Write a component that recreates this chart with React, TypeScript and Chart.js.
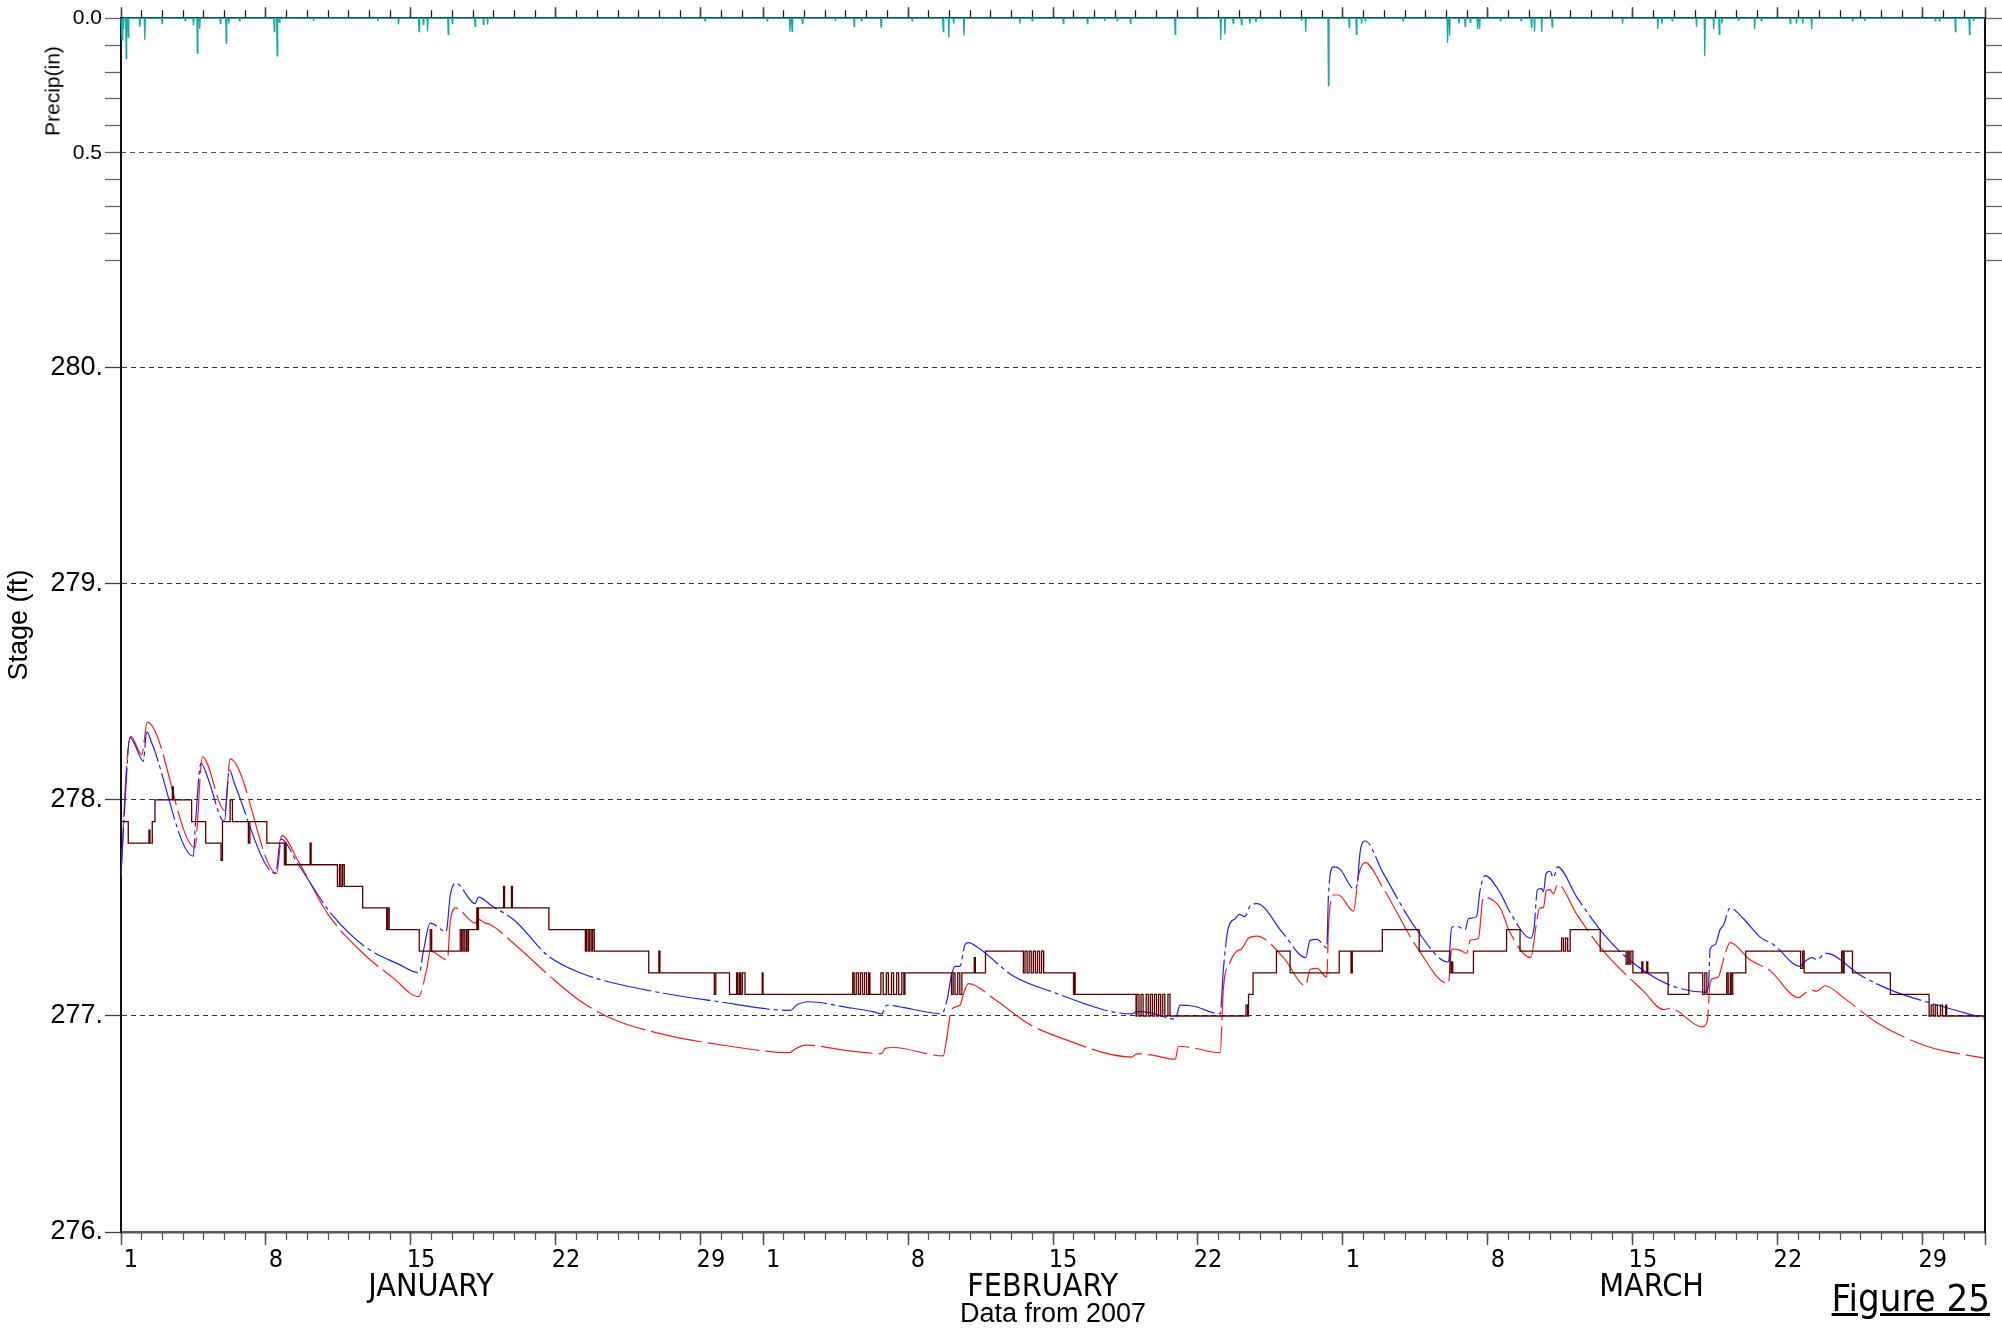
import React, { useEffect, useRef } from 'react';
import { Chart, registerables } from 'chart.js';

Chart.register(...registerables);

// ---------- data (day 0 = Jan 1 00:00, 2007) ----------
const obsDay = [
  0, 0.35, 1.35, 1.4, 1.51, 1.64, 2.48, 2.53, 3.41, 4.09, 4.83, 4.9, 5.27, 5.38, 6.15, 6.22, 7.04,
  7.89, 7.93, 7.97, 9.13, 9.18, 10.45, 10.55, 10.62, 10.7, 10.78, 11.67, 12.83, 12.88, 12.95, 14.4,
  14.93, 15.0, 16.38, 16.45, 16.52, 16.6, 16.68, 16.75, 16.78, 17.18, 17.22, 17.26, 18.47, 18.52,
  18.85, 18.9, 20.66, 22.42, 22.47, 22.55, 22.62, 22.7, 22.77, 22.85, 25.48, 25.97, 26.02, 28.65,
  28.72, 29.38, 29.72, 29.78, 29.86, 29.92, 30.0, 30.13, 30.96, 31.0, 35.33, 35.4, 35.5, 35.6, 35.7,
  35.8, 35.9, 36.0, 36.1, 36.16, 36.69, 36.8, 36.95, 37.05, 37.2, 37.3, 37.45, 37.55, 37.7, 37.8,
  37.85, 40.1, 40.18, 40.27, 40.4, 40.5, 40.6, 40.67, 41.2, 41.25, 41.74, 43.57, 43.65, 43.75, 43.85,
  43.95, 44.05, 44.15, 44.25, 44.35, 44.45, 44.55, 44.69, 45.99, 46.03, 46.07, 49.01, 49.05, 49.15,
  49.25, 49.35, 49.5, 49.6, 49.7, 49.8, 49.9, 50.0, 50.1, 50.2, 50.3, 50.4, 50.55, 50.65, 54.32,
  54.4, 54.44, 54.66, 55.79, 56.45, 58.82, 59.39, 59.45, 60.9, 62.68, 64.17, 64.25, 64.3, 65.3, 66.9,
  67.55, 69.56, 69.65, 69.75, 69.85, 69.97, 71.42, 72.67, 72.75, 72.82, 72.9, 73.0, 73.43, 73.48,
  73.67, 73.72, 74.7, 75.7, 76.37, 76.47, 76.57, 77.53, 77.6, 77.7, 77.75, 77.82, 78.45, 81.1, 81.2,
  81.27, 83.08, 83.15, 83.2, 83.6, 85.43, 87.3, 87.4, 87.5, 87.6, 87.7, 87.85, 87.95, 88.1, 88.15, 90,
];
const obsStage = [
  277.9, 277.8, 277.86, 277.8, 277.9, 278.0, 278.06, 278.0, 277.9, 277.8, 277.72, 277.9, 278.0, 277.9,
  277.8, 277.9, 277.8, 277.7, 277.8, 277.7, 277.8, 277.7, 277.6, 277.7, 277.6, 277.7, 277.6, 277.5,
  277.4, 277.5, 277.4, 277.3, 277.4, 277.3, 277.4, 277.3, 277.4, 277.3, 277.4, 277.3, 277.4, 277.5,
  277.4, 277.5, 277.6, 277.5, 277.6, 277.5, 277.4, 277.3, 277.4, 277.3, 277.4, 277.3, 277.4, 277.3,
  277.2, 277.3, 277.2, 277.1, 277.2, 277.1, 277.2, 277.1, 277.2, 277.1, 277.2, 277.1, 277.2, 277.1,
  277.2, 277.1, 277.2, 277.1, 277.2, 277.1, 277.2, 277.1, 277.2, 277.1, 277.2, 277.1, 277.2, 277.1,
  277.2, 277.1, 277.2, 277.1, 277.2, 277.1, 277.2, 277.1, 277.2, 277.1, 277.2, 277.1, 277.2, 277.2,
  277.27, 277.2, 277.3, 277.2, 277.3, 277.2, 277.3, 277.2, 277.3, 277.2, 277.3, 277.2, 277.3, 277.2,
  277.2, 277.1, 277.2, 277.1, 277.0, 277.1, 277.0, 277.1, 277.0, 277.1, 277.0, 277.1, 277.0, 277.1,
  277.0, 277.1, 277.0, 277.1, 277.0, 277.1, 277.0, 277.05, 277.0, 277.1, 277.2, 277.3, 277.2, 277.3,
  277.2, 277.3, 277.4, 277.3, 277.2, 277.25, 277.2, 277.3, 277.4, 277.3, 277.36, 277.3, 277.36, 277.3,
  277.4, 277.3, 277.24, 277.3, 277.24, 277.3, 277.2, 277.25, 277.2, 277.25, 277.2, 277.1, 277.2,
  277.1, 277.2, 277.1, 277.2, 277.1, 277.2, 277.1, 277.2, 277.3, 277.22, 277.3, 277.2, 277.3, 277.2,
  277.3, 277.2, 277.1, 277.0, 277.05, 277.0, 277.05, 277.0, 277.05, 277.0, 277.05, 277.0, 277.0,
];

const blueDay = [
  0, 0.2, 0.43, 0.6, 1.08, 1.24, 1.5, 3.49, 3.6, 3.86, 4.2, 4.99, 5.23, 5.5, 7.47, 7.71, 8.57, 10.18,
  11.79, 13.4, 14.4, 14.6, 14.93, 15.7, 15.9, 16.17, 17.1, 17.26, 17.9, 19.03, 20.6, 22.16, 25.38,
  28.6, 32.33, 32.6, 33.2, 35.04, 36.3, 36.73, 36.97, 38.26, 39.62, 39.9, 40.1, 40.27, 40.5, 40.75,
  40.91, 41.47, 43.08, 44.86, 48.8, 49.05, 49.7, 50.9, 51.14, 51.8, 53.07, 53.23, 53.47, 53.79, 54.0,
  54.25, 54.52, 54.84, 56.13, 57.2, 57.41, 57.75, 58.22, 58.3, 58.54, 58.86, 59.51, 59.67, 59.83,
  60.07, 60.95, 62.56, 64.09, 64.25, 64.5, 64.9, 65.06, 65.45, 65.62, 65.86, 66.59, 67.07, 68.07,
  68.23, 68.39, 68.6, 68.68, 68.81, 69.0, 69.16, 69.36, 70.29, 71.58, 72.7, 74.63, 76.49, 76.65,
  76.73, 76.97, 77.21, 77.37, 77.69, 78.34, 79.14, 79.8, 81.07, 81.23, 81.64, 81.9, 82.28, 82.6,
  83.97, 85.58, 87.35, 89.93,
];
const blueStage = [
  277.65, 278.0, 278.29, 278.27, 278.18, 278.315, 278.26, 277.74, 277.9, 278.17, 278.1, 277.9, 278.14,
  278.07, 277.66, 277.82, 277.7, 277.47, 277.32, 277.24, 277.2, 277.3, 277.43, 277.39, 277.56,
  277.615, 277.52, 277.55, 277.51, 277.44, 277.28, 277.2, 277.12, 277.07, 277.026, 277.05, 277.066,
  277.04, 277.02, 277.01, 277.05, 277.03, 277.01, 277.08, 277.19, 277.23, 277.23, 277.33, 277.34,
  277.31, 277.185, 277.115, 277.01, 277.02, 277.015, 276.985, 277.05, 277.045, 277.01, 277.22,
  277.41, 277.45, 277.47, 277.46, 277.51, 277.52, 277.38, 277.27, 277.35, 277.355, 277.315, 277.56,
  277.69, 277.68, 277.59, 277.6, 277.76, 277.81, 277.66, 277.4, 277.25, 277.41, 277.415, 277.4,
  277.45, 277.46, 277.58, 277.65, 277.57, 277.48, 277.36, 277.41, 277.585, 277.59, 277.575, 277.66,
  277.67, 277.64, 277.69, 277.55, 277.38, 277.27, 277.15, 277.11, 277.14, 277.31, 277.33, 277.4,
  277.42, 277.5, 277.45, 277.365, 277.33, 277.23, 277.245, 277.27, 277.26, 277.29, 277.285, 277.19,
  277.115, 277.06, 276.99,
];

const redDay = [
  0, 0.27, 0.48, 1.0, 1.27, 3.57, 3.93, 5.02, 5.27, 7.52, 7.76, 8.57, 10.0, 11.8, 13.1, 14.36, 14.77,
  14.93, 15.76, 15.89, 16.14, 17.13, 17.2, 17.58, 17.8, 19.03, 20.64, 22.16, 23.77, 26.18, 29.4, 32.3,
  32.5, 33.1, 35.04, 36.73, 36.9, 37.29, 39.7, 39.86, 40.1, 40.51, 40.67, 40.91, 42.28, 43.89, 45.34,
  48.8, 49.05, 49.7, 50.9, 51.06, 51.6, 53.07, 53.23, 53.55, 53.87, 54.1, 54.44, 54.84, 56.13, 57.2,
  57.41, 57.75, 58.22, 58.3, 58.54, 58.78, 59.51, 59.75, 60.07, 60.95, 62.56, 64.09, 64.25, 64.65,
  64.98, 65.14, 65.54, 65.78, 66.59, 67.07, 68.07, 68.33, 68.49, 68.68, 68.81, 69.0, 69.16, 69.37,
  70.29, 71.58, 73.51, 74.47, 74.8, 76.33, 76.6, 76.7, 76.8, 77.12, 77.37, 77.69, 78.66, 79.62, 81.0,
  81.23, 81.56, 81.88, 82.28, 83.17, 84.77, 87.19, 89.93,
];
const redStage = [
  277.65, 278.16, 278.295, 278.21, 278.36, 277.78, 278.2, 277.95, 278.19, 277.66, 277.835, 277.715,
  277.47, 277.28, 277.18, 277.09, 277.22, 277.3, 277.26, 277.43, 277.5, 277.43, 277.45, 277.43,
  277.425, 277.33, 277.19, 277.07, 276.985, 276.915, 276.86, 276.83, 276.845, 276.865, 276.84,
  276.826, 276.85, 276.854, 276.815, 276.89, 277.03, 277.05, 277.1, 277.15, 277.07, 276.96, 276.9,
  276.81, 276.825, 276.82, 276.8, 276.86, 276.855, 276.83, 277.13, 277.25, 277.3, 277.31, 277.36,
  277.37, 277.27, 277.14, 277.215, 277.22, 277.18, 277.41, 277.56, 277.56, 277.485, 277.65, 277.71,
  277.59, 277.32, 277.15, 277.31, 277.305, 277.29, 277.35, 277.36, 277.55, 277.5, 277.385, 277.27,
  277.42, 277.5, 277.5, 277.58, 277.585, 277.565, 277.61, 277.47, 277.3, 277.115, 277.03, 277.035,
  276.95, 276.98, 277.13, 277.17, 277.18, 277.26, 277.34, 277.26, 277.21, 277.085, 277.1, 277.12,
  277.115, 277.14, 277.085, 276.97, 276.86, 276.805,
];

const precipDay = [
  0.05, 0.12, 0.25, 0.35, 0.91, 1.15, 1.98, 3.1, 3.5, 3.69, 3.8, 4.8, 5.08, 5.2, 5.72, 7.4, 7.54, 7.65,
  9.3, 12.4, 13.4, 14.39, 14.6, 14.8, 15.8, 16.0, 17.1, 17.5, 17.7, 28.2, 31.2, 32.3, 32.4, 32.9,
  34.5, 35.4, 35.75, 36.7, 38.2, 39.7, 39.97, 40.2, 40.7, 43.4, 44.0, 45.5, 46.66, 47.5, 48.1, 48.74,
  50.9, 53.1, 53.3, 53.7, 54.1, 54.5, 54.8, 57.0, 57.2, 58.3, 59.3, 59.65, 59.9, 60.07, 61.9, 64.05,
  64.15, 64.6, 64.9, 65.15, 65.5, 65.6, 66.6, 67.6, 68.1, 68.25, 68.6, 69.1, 72.5, 74.2, 74.4, 74.9,
  76.07, 76.47, 76.9, 77.17, 77.3, 78.1, 78.88, 79.2, 80.6, 80.9, 81.2, 81.63, 83.6, 84.2, 87.6,
  87.8, 88.57, 89.25, 89.45,
];
const precipIn = [
  0.08, 0.04, 0.15, 0.07, 0.033, 0.08, 0.02, 0.01, 0.027, 0.13, 0.04, 0.02, 0.092, 0.02, 0.01, 0.05,
  0.14, 0.015, 0.01, 0.01, 0.023, 0.05, 0.023, 0.05, 0.06, 0.02, 0.03, 0.023, 0.023, 0.01, 0.01, 0.05,
  0.05, 0.02, 0.01, 0.03, 0.01, 0.033, 0.01, 0.05, 0.072, 0.02, 0.064, 0.02, 0.01, 0.02, 0.02, 0.01,
  0.01, 0.02, 0.06, 0.08, 0.06, 0.02, 0.025, 0.02, 0.015, 0.01, 0.05, 0.25, 0.033, 0.06, 0.02, 0.01,
  0.01, 0.092, 0.065, 0.02, 0.03, 0.015, 0.04, 0.04, 0.01, 0.01, 0.033, 0.05, 0.05, 0.033, 0.02, 0.04,
  0.02, 0.01, 0.033, 0.141, 0.04, 0.06, 0.02, 0.01, 0.04, 0.01, 0.02, 0.02, 0.02, 0.04, 0.01, 0.01,
  0.01, 0.01, 0.05, 0.06, 0.01,
];

const stageTicks = [276, 277, 278, 279, 280];
const precipTicks = [0, 0.1, 0.2, 0.3, 0.4, 0.5, 0.6, 0.7, 0.8, 0.9];
const precipLabelled = [0, 0.5];
const weekTickDays = [0, 7, 14, 21, 28, 31, 38, 45, 52, 59, 66, 73, 80, 87, 90];
const dayLabelDays = [0, 7, 14, 21, 28, 31, 38, 45, 52, 59, 66, 73, 80, 87];
const dayLabels = ['1', '8', '15', '22', '29', '1', '8', '15', '22', '1', '8', '15', '22', '29'];
const monthCenterDays = [14.97, 44.5, 73.9];
const monthNames = ['JANUARY', 'FEBRUARY', 'MARCH'];
const xMin = 0;
const xMax = 90;
const stageMin = 276;
const stageMax = 281.619;
const precipMax = 4.507;

// ---------- helpers ----------
const pairs = (xs: number[], ys: number[]) => xs.map((x, i) => ({ x, y: ys[i] }));
const precipPoints = () => {
  const pts: { x: number; y: number }[] = [{ x: xMin, y: 0 }];
  precipDay.forEach((d, i) => {
    pts.push({ x: d - 0.025, y: 0 }, { x: d, y: precipIn[i] }, { x: d + 0.025, y: 0 });
  });
  pts.push({ x: xMax, y: 0 });
  return pts;
};
const allDays = Array.from({ length: xMax - xMin + 1 }, (_, i) => xMin + i);
const setTicks = (vals: number[]) => (scale: any) => {
  scale.ticks = vals.map((v) => ({ value: v }));
};
const fixW = (w: number) => (scale: any) => {
  scale.width = w;
};
const fixH = (h: number) => (scale: any) => {
  scale.height = h;
};

// widen the label clip boxes of the zero-size / short scales after layout
const labelRoom = {
  id: 'labelRoom',
  afterLayout(chart: any) {
    const yP = chart.scales.yP;
    if (yP) {
      yP.left = 0;
    }
    const x = chart.scales.x;
    if (x) {
      x.bottom = chart.height;
    }
  },
};

const SANS = "'Liberation Sans', Arial, Helvetica, sans-serif";
const NARROW = "'Liberation Sans Narrow', 'Arial Narrow', 'DejaVu Sans Condensed', sans-serif";
const CLEAR = 'rgba(0,0,0,0)';

export default function App() {
  const ref = useRef<HTMLCanvasElement | null>(null);

  useEffect(() => {
    if (!ref.current) return;
    const hiddenX = (extra: any) => ({
      type: 'linear',
      min: xMin,
      max: xMax,
      ticks: { display: false },
      ...extra,
    });
    const chart = new Chart(ref.current, {
      type: 'line',
      data: {
        datasets: [
          {
            label: 'Observed',
            data: pairs(obsDay, obsStage),
            borderColor: '#5a0000',
            borderWidth: 1.3,
            stepped: 'before',
            pointRadius: 0,
            xAxisID: 'x',
            yAxisID: 'y',
          },
          {
            label: 'Simulated A',
            data: pairs(blueDay, blueStage),
            borderColor: '#1f1fff',
            borderWidth: 1.2,
            borderDash: [48, 4, 4, 4],
            pointRadius: 0,
            cubicInterpolationMode: 'monotone',
            xAxisID: 'x',
            yAxisID: 'y',
          },
          {
            label: 'Simulated B',
            data: pairs(redDay, redStage),
            borderColor: '#ff1a1a',
            borderWidth: 1.2,
            borderDash: [52, 6],
            pointRadius: 0,
            cubicInterpolationMode: 'monotone',
            xAxisID: 'x',
            yAxisID: 'y',
          },
          {
            label: 'Precip',
            data: precipPoints(),
            borderColor: '#17aaa6',
            borderWidth: 1.3,
            pointRadius: 0,
            clip: 4,
            xAxisID: 'x',
            yAxisID: 'yP',
          },
        ],
      },
      options: {
        responsive: false,
        animation: false,
        events: [],
        layout: { padding: { top: 15, right: 0, left: 0, bottom: 0 } },
        plugins: { legend: { display: false }, tooltip: { enabled: false }, title: { display: false } },
        scales: {
          // bottom: daily short ticks + day labels
          x: {
            type: 'linear',
            position: 'bottom',
            weight: 1,
            min: xMin,
            max: xMax,
            afterBuildTicks: setTicks(allDays),
            afterFit: fixH(30),
            grid: { drawOnChartArea: false, tickLength: 8, tickColor: '#555', tickWidth: 1.3 },
            border: { display: false },
            ticks: {
              autoSkip: false,
              maxRotation: 0,
              labelOffset: 10,
              padding: 5,
              color: '#000',
              font: { family: NARROW, size: 25 },
              callback: (v: any) => {
                const i = dayLabelDays.indexOf(Number(v));
                return i >= 0 ? dayLabels[i] : '';
              },
            },
          },
          // bottom: long weekly ticks, drawn at the axis line
          xLong: hiddenX({
            position: 'bottom',
            weight: 0,
            afterBuildTicks: setTicks(weekTickDays),
            afterFit: fixH(0),
            grid: { drawOnChartArea: false, tickLength: 13, tickColor: '#555', tickWidth: 1.5 },
            border: { display: true, color: '#555', width: 2.5 },
          }),
          // bottom: month names + "Data from 2007"
          xMonth: {
            type: 'linear',
            position: 'bottom',
            weight: 2,
            min: xMin,
            max: xMax,
            afterBuildTicks: setTicks(monthCenterDays),
            afterFit: fixH(67),
            grid: { display: false, drawTicks: false },
            border: { display: false },
            ticks: {
              autoSkip: false,
              maxRotation: 0,
              padding: 6,
              color: '#000',
              font: { family: NARROW, size: 32 },
              callback: (v: any) => {
                const i = monthCenterDays.indexOf(Number(v));
                return i >= 0 ? monthNames[i] : '';
              },
            },
            title: {
              display: true,
              text: 'Data from 2007',
              color: '#000',
              font: { family: SANS, size: 27, lineHeight: 1 },
              padding: { top: 0, bottom: 1 },
            },
          },
          // top: daily short ticks
          xTop: hiddenX({
            position: 'top',
            weight: 0,
            afterBuildTicks: setTicks(allDays),
            afterFit: fixH(0),
            grid: { drawOnChartArea: false, tickLength: 8, tickColor: '#222', tickWidth: 1.3 },
            border: { display: true, color: '#000', width: 1.5 },
          }),
          // top: long weekly ticks
          xTopLong: hiddenX({
            position: 'top',
            weight: 1,
            afterBuildTicks: setTicks(weekTickDays),
            afterFit: fixH(0),
            grid: { drawOnChartArea: false, tickLength: 11, tickColor: '#444', tickWidth: 1.5 },
            border: { display: false },
          }),
          // left: stage
          y: {
            type: 'linear',
            position: 'left',
            weight: 1,
            min: stageMin,
            max: stageMax,
            afterBuildTicks: setTicks(stageTicks),
            afterFit: fixW(121),
            grid: {
              color: (c: any) => (c.tick && c.tick.value === stageMin ? CLEAR : '#333'),
              lineWidth: 1,
              tickLength: 16,
              tickColor: '#444',
              tickWidth: 1.3,
            },
            border: { display: true, color: '#111', width: 2, dash: [5, 4] },
            ticks: {
              padding: 2,
              color: '#000',
              font: { family: SANS, size: 27 },
              callback: (v: any) => `${Number(v).toFixed(0)}.`,
            },
            title: {
              display: true,
              text: 'Stage (ft)',
              color: '#000',
              font: { family: SANS, size: 27 },
              padding: { top: 3, bottom: 0 },
            },
          },
          // left (inner): precipitation, reversed
          yP: {
            type: 'linear',
            position: 'left',
            weight: 0,
            reverse: true,
            min: 0,
            max: precipMax,
            afterBuildTicks: setTicks(precipTicks),
            afterFit: fixW(0),
            grid: {
              color: (c: any) => (c.tick && c.tick.value === 0.5 ? '#555' : CLEAR),
              lineWidth: 1,
              tickLength: 16,
              tickColor: '#666',
              tickWidth: 1.3,
            },
            border: { display: false, dash: [5, 4] },
            ticks: {
              autoSkip: false,
              padding: 3,
              color: '#000',
              font: { family: SANS, size: 21 },
              callback: (v: any) => (precipLabelled.includes(Number(v)) ? Number(v).toFixed(1) : ''),
            },
          },
          // right: precipitation tick marks
          yPR: {
            type: 'linear',
            position: 'right',
            weight: 0,
            reverse: true,
            min: 0,
            max: precipMax,
            afterBuildTicks: setTicks(precipTicks),
            afterFit: fixW(17),
            grid: { drawOnChartArea: false, tickLength: 17, tickColor: '#666', tickWidth: 1.3 },
            border: { display: true, color: '#111', width: 2 },
            ticks: { display: false },
          },
        },
      },
      plugins: [labelRoom],
    } as any);
    return () => chart.destroy();
  }, []);

  return (
    <div
      style={{
        position: 'absolute',
        left: 0,
        top: 0,
        width: 2002,
        height: 1329,
        background: '#fff',
        overflow: 'hidden',
      }}
    >
      <canvas ref={ref} width={2002} height={1329} style={{ display: 'block' }} />
      <div style={{ position: 'absolute', left: 52, top: 91, width: 0, height: 0 }}>
        <div
          style={{
            position: 'absolute',
            left: 0,
            top: 0,
            transform: 'translate(-50%, -50%) rotate(-90deg)',
            whiteSpace: 'nowrap',
            fontFamily: SANS,
            fontSize: 21,
            lineHeight: 1,
            color: '#000',
          }}
        >
          Precip(in)
        </div>
      </div>
      <div
        style={{
          position: 'absolute',
          right: 12,
          top: 1279,
          fontFamily: NARROW,
          fontSize: 38,
          lineHeight: 1,
          color: '#000',
          textDecoration: 'underline',
          whiteSpace: 'nowrap',
        }}
      >
        Figure 25
      </div>
    </div>
  );
}
